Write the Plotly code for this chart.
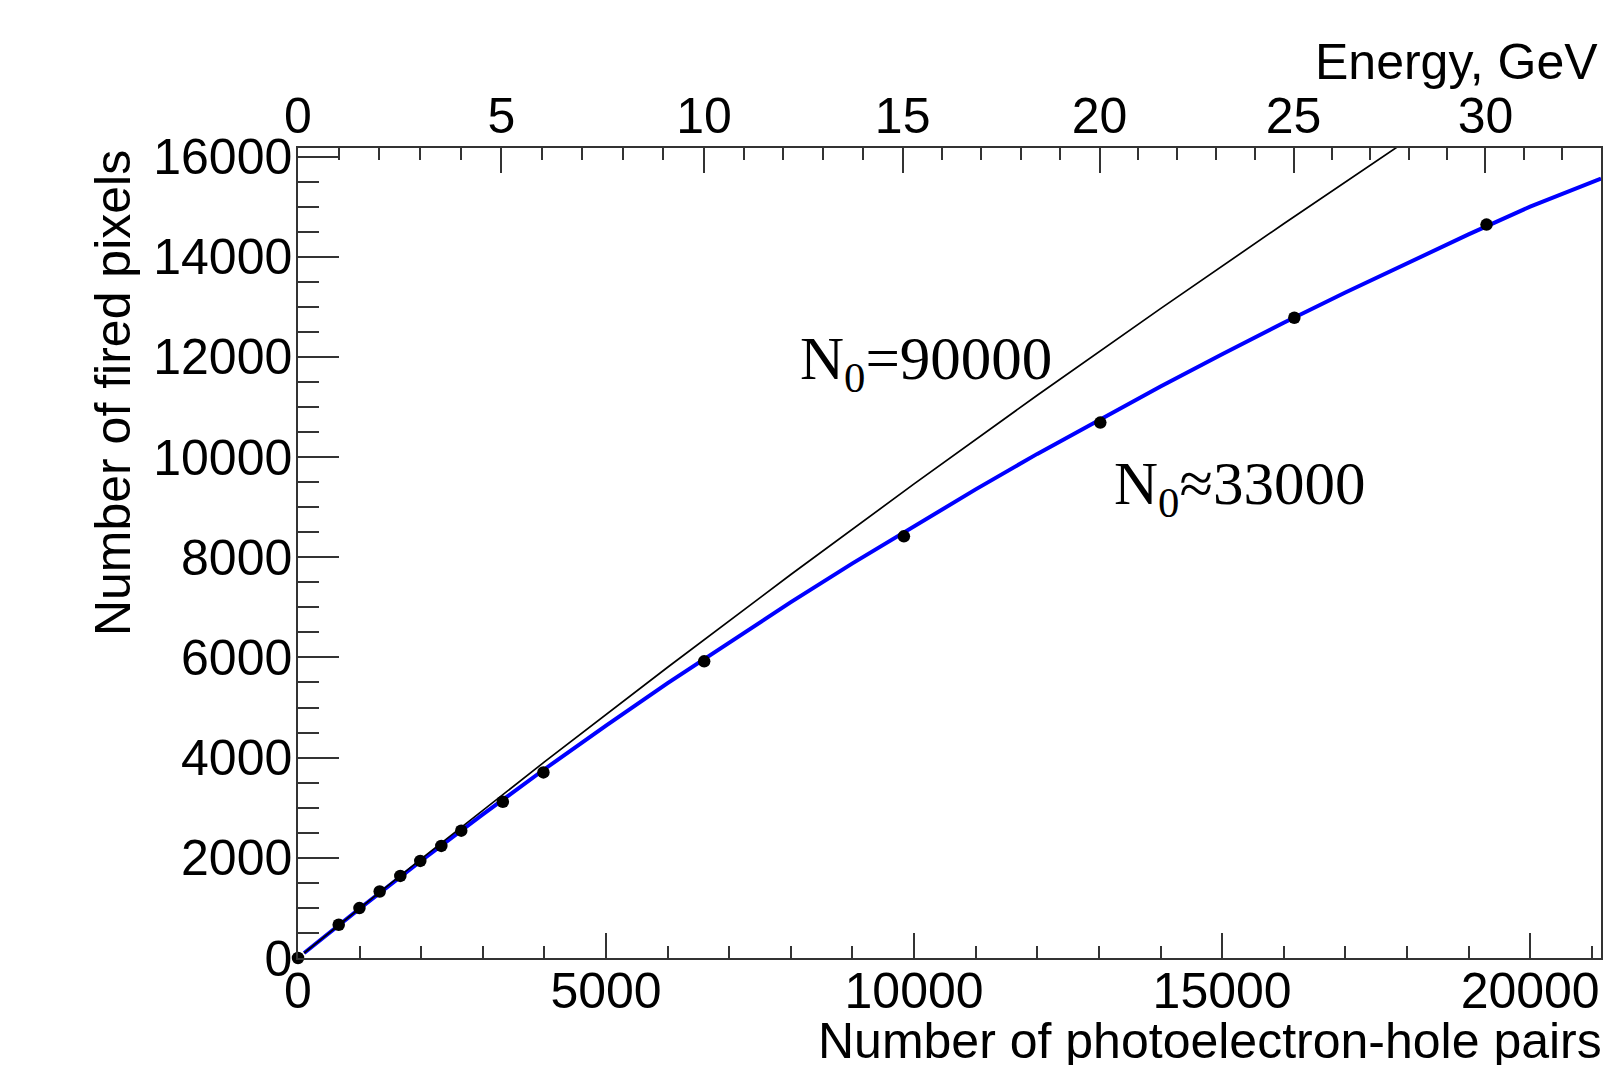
import numpy as np
import plotly.graph_objects as go

# ---- data ----
pairs = [0, 661, 997, 1326, 1661, 1985, 2326, 2650, 3325, 3984, 6593, 9835, 13023, 16172, 19292]
fired = [0, 663, 996, 1327, 1639, 1938, 2237, 2542, 3120, 3705, 5922, 8418, 10689, 12781, 14641]

# curve N0 = 33000 (blue)
blue_x = [100, 1000, 2000, 3000, 4000, 5000, 6000, 7000, 8000, 9000, 10000, 11000,
          12000, 13000, 14000, 15000, 16000, 17000, 18000, 19000, 20000, 21150]
blue_y = [100, 985, 1941, 2868, 3768, 4640, 5487, 6306, 7103, 7877, 8627, 9355,
          10064, 10746, 11407, 12052, 12681, 13285, 13875, 14445, 15000, 15560]

# curve N0 = 90000 (black)
black_x = [100, 2000, 4000, 6000, 8000, 10000, 12000, 14000, 16000, 17900]
black_y = [100, 1978, 3914, 5804, 7656, 9464, 11235, 12964, 14658, 16238]

# top (energy) axis: labels and the pair count at which each label sits
energy_labels = [0, 5, 10, 15, 20, 25, 30]
energy_label_pairs = [0, 3300, 6590, 9815, 13010, 16160, 19275]

x_ticks = [0, 5000, 10000, 15000, 20000]
y_ticks = [0, 2000, 4000, 6000, 8000, 10000, 12000, 14000, 16000]

X_MAX = 21150
Y_MAX = 16170

# minor ticks of energy axis (each GeV), placed along the same mapping
e_minor = np.arange(1, 34)
slope_end = (energy_label_pairs[-1] - energy_label_pairs[-2]) / 5.0
minor_pairs = []
for e in e_minor:
    if e % 5 == 0:
        continue
    if e <= energy_labels[-1]:
        minor_pairs.append(float(np.interp(e, energy_labels, energy_label_pairs)))
    else:
        minor_pairs.append(energy_label_pairs[-1] + (e - energy_labels[-1]) * slope_end)

FONT = "Liberation Sans"
AX = "#333333"
TICKFONT = dict(size=50, family=FONT, color="black")

fig = go.Figure()
fig.add_trace(go.Scatter(x=blue_x, y=blue_y, mode="lines",
                         line=dict(color="#0000ff", width=4), showlegend=False, hoverinfo="skip"))
fig.add_trace(go.Scatter(x=black_x, y=black_y, mode="lines",
                         line=dict(color="black", width=1.7), showlegend=False, hoverinfo="skip"))
fig.add_trace(go.Scatter(x=pairs, y=fired, mode="markers",
                         marker=dict(color="black", size=12.5), cliponaxis=False, showlegend=False))
# empty trace to activate top axis
fig.add_trace(go.Scatter(x=[], y=[], xaxis="x2", yaxis="y", showlegend=False))

fig.update_layout(
    width=1609, height=1065,
    margin=dict(l=298, r=6, t=148, b=107),
    paper_bgcolor="white", plot_bgcolor="white",
    font=dict(family=FONT, color="black"),
    xaxis=dict(range=[0, X_MAX], tickmode="array", tickvals=x_ticks,
               ticktext=[str(v) for v in x_ticks],
               ticks="inside", ticklen=25, tickwidth=1.5, tickcolor=AX,
               minor=dict(dtick=1000, tick0=0, ticks="inside", ticklen=12, tickwidth=1.5, tickcolor=AX),
               showline=True, linecolor=AX, linewidth=1.5, mirror=True,
               showgrid=False, zeroline=False,
               tickfont=TICKFONT, ticklabelstandoff=-12),
    xaxis2=dict(range=[0, X_MAX], overlaying="x", side="top", tickmode="array",
                tickvals=energy_label_pairs, ticktext=[str(v) for v in energy_labels],
                ticks="inside", ticklen=25, tickwidth=1.5, tickcolor=AX,
                minor=dict(tickmode="array", tickvals=minor_pairs, ticks="inside",
                           ticklen=12, tickwidth=1.5, tickcolor=AX),
                showline=True, linecolor=AX, linewidth=1.5,
                showgrid=False, zeroline=False,
                tickfont=TICKFONT, ticklabelstandoff=-7),
    yaxis=dict(range=[0, Y_MAX], tickmode="array", tickvals=y_ticks,
               ticktext=[str(v) for v in y_ticks],
               ticks="inside", ticklen=41, tickwidth=1.5, tickcolor=AX,
               minor=dict(dtick=500, tick0=0, ticks="inside", ticklen=21, tickwidth=1.5, tickcolor=AX),
               showline=True, linecolor=AX, linewidth=1.5, mirror=True,
               showgrid=False, zeroline=False,
               tickfont=TICKFONT, ticklabelstandoff=-6),
)

# axis titles
fig.add_annotation(text="Number of photoelectron-hole pairs", xref="paper", yref="paper",
                   x=1.002, y=-0.066, xanchor="right", yanchor="top", showarrow=False,
                   font=dict(size=50, family=FONT, color="black"))
fig.add_annotation(text="Energy, GeV", xref="paper", yref="paper",
                   x=0.9995, y=1.1432, xanchor="right", yanchor="top", showarrow=False,
                   font=dict(size=50, family=FONT, color="black"))
fig.add_annotation(text="Number of fired pixels", xref="paper", yref="paper",
                   x=-0.1419, y=1.0, xanchor="center", yanchor="top", textangle=-90, showarrow=False,
                   font=dict(size=50, family=FONT, color="black"))

# curve labels
fig.add_annotation(text="N<sub>0</sub>=90000", x=8120, y=11882, xref="x", yref="y",
                   xanchor="left", yanchor="middle", showarrow=False,
                   font=dict(size=61, family="Liberation Serif", color="black"))
fig.add_annotation(text="N<sub>0</sub>≈33000", x=13210, y=9373, xref="x", yref="y",
                   xanchor="left", yanchor="middle", showarrow=False,
                   font=dict(size=61, family="Liberation Serif", color="black"))

fig.write_html("out.html")
